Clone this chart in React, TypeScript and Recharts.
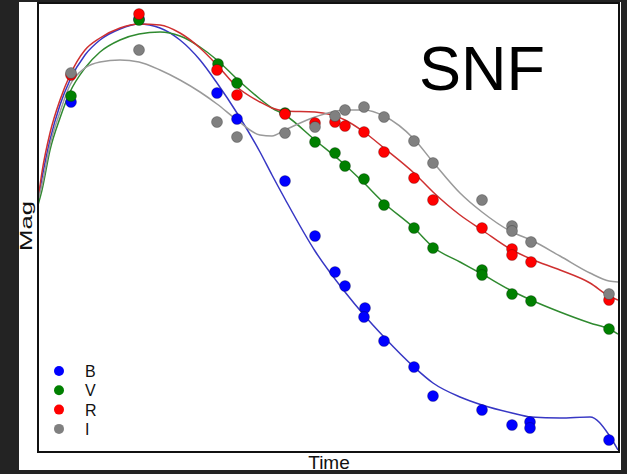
import React from 'react';
import { ComposedChart, Line, Scatter, XAxis, YAxis } from 'recharts';

// fitted light curves, sampled along time
const curveTime = [0, 0.8, 2.4, 4.4, 6.4, 9.4, 12.4, 16.4, 20.2, 24.4, 28.4, 32.4, 35.8, 39.8, 44.4, 46.8, 49.4, 55.4, 61.4, 65.2, 69.2, 75.2, 79.0, 84.4, 88.8, 94.8, 98.6, 104.4, 110.4, 114.2, 116.0];
const curveB = [15.94, 15.5, 14.74, 14.04, 13.54, 13.04, 12.74, 12.52, 12.42, 12.5, 12.74, 13.14, 13.6, 14.2, 14.98, 15.44, 15.92, 16.96, 17.78, 18.24, 18.68, 19.28, 19.6, 19.88, 20.04, 20.2, 20.28, 20.3, 20.28, 20.64, 20.94];
const curveV = [16.04, 15.74, 14.94, 14.3, 13.78, 13.3, 12.98, 12.74, 12.62, 12.58, 12.66, 12.88, 13.14, 13.52, 13.92, 14.1, 14.24, 14.74, 15.24, 15.6, 16.0, 16.5, 16.88, 17.18, 17.42, 17.76, 17.94, 18.18, 18.4, 18.52, 18.62];
const curveR = [15.94, 15.38, 14.6, 13.94, 13.44, 12.94, 12.7, 12.5, 12.42, 12.44, 12.6, 12.9, 13.24, 13.68, 13.98, 14.1, 14.16, 14.18, 14.34, 14.58, 14.9, 15.4, 15.78, 16.24, 16.54, 16.94, 17.12, 17.34, 17.6, 17.86, 17.94];
const curveI = [15.94, 15.64, 14.84, 14.18, 13.64, 13.3, 13.18, 13.14, 13.18, 13.34, 13.54, 13.78, 14.02, 14.34, 14.64, 14.66, 14.54, 14.28, 14.14, 14.14, 14.26, 14.72, 15.18, 15.8, 16.18, 16.58, 16.74, 17.06, 17.4, 17.56, 17.58];

// observed photometry
const obsTimeB = [6.6, 20.2, 35.8, 39.8, 49.4, 55.4, 59.4, 61.4, 65.4, 65.2, 69.2, 75.2, 79.0, 88.8, 94.8, 98.4, 98.4, 114.2];
const obsMagB = [13.98, 12.32, 13.8, 14.32, 15.56, 16.66, 17.38, 17.66, 18.1, 18.28, 18.76, 19.28, 19.86, 20.14, 20.44, 20.38, 20.5, 20.74];
const obsTimeV = [6.6, 20.2, 36.0, 39.8, 49.4, 55.4, 59.4, 61.4, 65.2, 69.2, 75.2, 79.0, 88.8, 88.8, 94.8, 98.6, 114.2];
const obsMagV = [13.86, 12.34, 13.22, 13.6, 14.2, 14.78, 15.0, 15.26, 15.52, 16.04, 16.5, 16.9, 17.34, 17.44, 17.82, 17.96, 18.52];
const obsTimeR = [6.6, 20.2, 35.8, 39.8, 49.4, 55.4, 59.4, 61.4, 65.2, 69.2, 75.2, 79.0, 88.8, 94.8, 94.8, 98.6, 114.2];
const obsMagR = [13.44, 12.22, 13.34, 13.84, 14.22, 14.4, 14.38, 14.46, 14.58, 14.98, 15.5, 15.94, 16.5, 16.92, 17.04, 17.18, 17.94];
const obsTimeI = [6.6, 20.2, 35.8, 39.8, 49.4, 55.4, 59.4, 61.4, 65.2, 69.2, 75.2, 79.0, 88.8, 94.8, 94.8, 98.6, 114.2];
const obsMagI = [13.4, 12.94, 14.38, 14.68, 14.6, 14.48, 14.26, 14.14, 14.08, 14.28, 14.76, 15.2, 15.94, 16.46, 16.56, 16.78, 17.82];

const bandNames = ['B', 'V', 'R', 'I'];

const toRows = (ts: number[], ms: number[]) => ts.map((t, i) => ({ t, m: ms[i] }));

const bands = [
  { name: 'B', dot: '#0000ff', line: '#3737c4', curve: toRows(curveTime, curveB), obs: toRows(obsTimeB, obsMagB) },
  { name: 'V', dot: '#008000', line: '#2f8a2f', curve: toRows(curveTime, curveV), obs: toRows(obsTimeV, obsMagV) },
  { name: 'R', dot: '#ff0000', line: '#cf3030', curve: toRows(curveTime, curveR), obs: toRows(obsTimeR, obsMagR) },
  { name: 'I', dot: '#808080', line: '#9a9a9a', curve: toRows(curveTime, curveI), obs: toRows(obsTimeI, obsMagI) },
];

const FONT = '"Liberation Sans", Arial, sans-serif';

const dotShape = (color: string) => (props: any) => (
  <circle cx={props.cx} cy={props.cy} r={5.5} fill={color} stroke="#000" strokeOpacity={0.35} strokeWidth={0.7} />
);

export default function App() {
  return (
    <div style={{ position: 'absolute', left: 0, top: 0, width: 627, height: 474, background: '#232323' }}>
      <div style={{ position: 'absolute', left: 19, top: 2, width: 602, height: 468, background: '#fff', overflow: 'hidden' }}>
        <ComposedChart width={602} height={468} margin={{ top: 1, right: 3, bottom: 19, left: 19 }}>
          <XAxis type="number" dataKey="t" domain={[0, 116]} hide allowDataOverflow />
          <YAxis type="number" dataKey="m" domain={[12, 20.96]} reversed hide allowDataOverflow />
          {bands.map((b) => (
            <Line
              key={'c' + b.name}
              data={b.curve}
              dataKey="m"
              type="monotone"
              stroke={b.line}
              strokeWidth={1.5}
              dot={false}
              activeDot={false}
              legendType="none"
              isAnimationActive={false}
            />
          ))}
          {bands.map((b) => (
            <Scatter
              key={'s' + b.name}
              name={b.name}
              data={b.obs}
              dataKey="m"
              shape={dotShape(b.dot)}
              isAnimationActive={false}
            />
          ))}
        </ComposedChart>
      </div>
      <div
        style={{
          position: 'absolute',
          left: 37,
          top: 2,
          width: 583,
          height: 451,
          border: '2px solid #111',
          boxSizing: 'border-box',
          pointerEvents: 'none',
        }}
      />
      <svg width={627} height={474} style={{ position: 'absolute', left: 0, top: 0, pointerEvents: 'none' }}>
        <text x={419} y={90} fontFamily={FONT} fontSize={63} fill="#000">SNF</text>
        <text
          x={0}
          y={0}
          transform="translate(32,226) rotate(-90)"
          textAnchor="middle"
          fontFamily={FONT}
          fontSize={16}
          textLength={50}
          lengthAdjust="spacingAndGlyphs"
          fill="#111"
        >
          Mag
        </text>
        <text x={329} y={469} textAnchor="middle" fontFamily={FONT} fontSize={19} fill="#111">Time</text>
        {bandNames.map((n, i) => (
          <g key={n}>
            <circle cx={59} cy={371 + i * 19.3} r={5} fill={bands[i].dot} />
            <text x={85} y={371 + i * 19.3 + 6} fontFamily={FONT} fontSize={16} fill="#111">{n}</text>
          </g>
        ))}
      </svg>
    </div>
  );
}
